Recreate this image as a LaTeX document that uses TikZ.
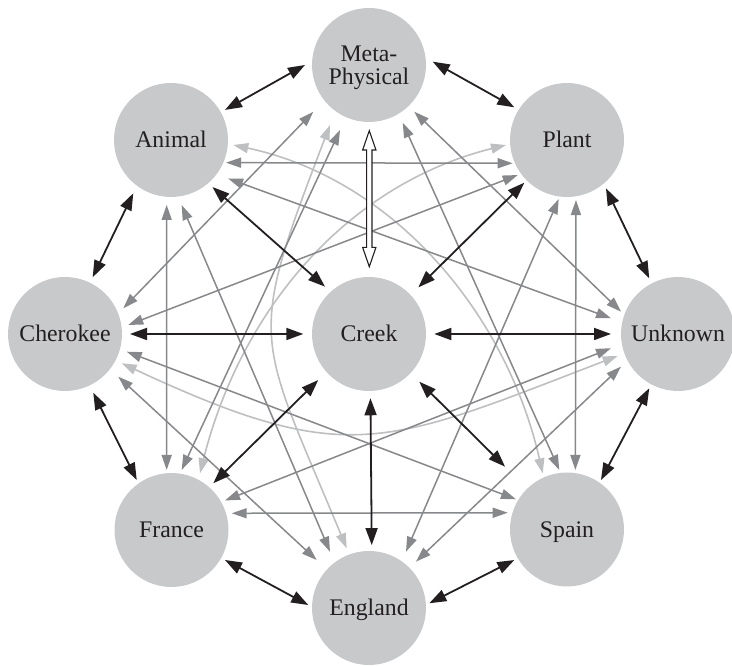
\documentclass[tikz,border=0pt]{standalone}
\usepackage{fontspec}
\setmainfont{Liberation Serif}
\usetikzlibrary{arrows.meta,calc}
\definecolor{nodefill}{RGB}{200,201,203}
\definecolor{txt}{RGB}{35,31,32}
\definecolor{blk}{RGB}{35,31,32}
\definecolor{gry}{RGB}{135,136,139}
\definecolor{lgry}{RGB}{190,191,193}
\tikzset{
  nd/.style={circle, fill=nodefill, minimum size=114pt, inner sep=0pt, text=txt,
    font=\fontsize{23.8}{23.3}\selectfont, text height=15.8pt, text depth=0pt},
  blkarrow/.style={draw=blk, line width=1.8pt, >={Triangle[length=17pt,width=12pt]}, <->},
  gryarrow/.style={draw=gry, line width=1.5pt, >={Triangle[length=15pt,width=10pt]}, <->},
  lgryarrow/.style={draw=lgry, line width=1.6pt, >={Triangle[length=15pt,width=10pt]}, <->},
}
\begin{document}
\begin{tikzpicture}[x=1pt,y=1pt]
\useasboundingbox (0,0) rectangle (732,666);
% nodes
\node[nd, align=center, text height=40pt, text depth=0pt] (meta) at (369,601) {Meta-\\Physical};
\node[nd] (animal) at (171,526) {Animal};
\node[nd] (plant) at (567,526) {Plant};
\node[nd] (cherokee) at (65,332) {Cherokee};
\node[nd] (creek) at (369,332) {Creek};
\node[nd] (unknown) at (678,332) {Unknown};
\node[nd] (france) at (171.5,136) {France};
\node[nd] (spain) at (567,136.5) {Spain};
\node[nd] (england) at (369,58) {England};

% light gray arcs (opposite pairs)
\draw[lgryarrow] ([shift={(237:71.6pt)}]meta.center) .. controls +(249:235pt) and +(112.6:235pt) .. ([shift={(110.5:63.7pt)}]england.center);
\draw[lgryarrow] ([shift={(-4.6:62.5pt)}]animal.center) .. controls +(-12:164pt) and +(102.8:164pt) .. ([shift={(113.4:61.2pt)}]spain.center);
\draw[lgryarrow] ([shift={(184.7:61.2pt)}]plant.center) .. controls +(194:166pt) and +(76:166pt) .. ([shift={(63.3:63.5pt)}]france.center);
\draw[lgryarrow] ([shift={(-27.3:63.8pt)}]cherokee.center) .. controls +(-25:250pt) and +(201:250pt) .. ([shift={(200:64.2pt)}]unknown.center);

% medium gray lines
\draw[gryarrow] ([shift={(-22.4:59.5pt)}]animal.center) -- ([shift={(203.2:59.1pt)}]plant.center);
\draw[gryarrow] ([shift={(266.2:65.1pt)}]animal.center) -- ([shift={(94.6:60.2pt)}]france.center);
\draw[gryarrow] ([shift={(-80.7:65.9pt)}]animal.center) -- ([shift={(124.7:68.5pt)}]england.center);
\draw[gryarrow] ([shift={(-34:68.8pt)}]animal.center) -- ([shift={(166.8:68.8pt)}]unknown.center);
\draw[gryarrow] ([shift={(220:72.7pt)}]meta.center) -- ([shift={(23.8:63.7pt)}]cherokee.center);
\draw[gryarrow] ([shift={(246:71.2pt)}]meta.center) -- ([shift={(80.4:60.9pt)}]france.center);
\draw[gryarrow] ([shift={(-59.7:66.8pt)}]meta.center) -- ([shift={(97.4:60pt)}]spain.center);
\draw[gryarrow] ([shift={(-45.9:65pt)}]meta.center) -- ([shift={(158.6:61.2pt)}]unknown.center);
\draw[gryarrow] ([shift={(215.4:60.5pt)}]plant.center) -- ([shift={(8.1:63.9pt)}]cherokee.center);
\draw[gryarrow] ([shift={(262:59.6pt)}]plant.center) -- ([shift={(56.7:67.4pt)}]england.center);
\draw[gryarrow] ([shift={(-81.5:60.7pt)}]plant.center) -- ([shift={(82:60.1pt)}]spain.center);
\draw[gryarrow] ([shift={(-16:64.2pt)}]cherokee.center) -- ([shift={(149.4:59.3pt)}]spain.center);
\draw[gryarrow] ([shift={(-38.7:68.3pt)}]cherokee.center) -- ([shift={(137.5:71pt)}]england.center);
\draw[gryarrow] ([shift={(192:68.5pt)}]unknown.center) -- ([shift={(28.9:61.1pt)}]france.center);
\draw[gryarrow] ([shift={(209.8:65.7pt)}]unknown.center) -- ([shift={(44.6:66pt)}]england.center);
\draw[gryarrow] ([shift={(15.5:62.5pt)}]france.center) -- ([shift={(164.2:61.6pt)}]spain.center);

% black lines: outer ring
\draw[blkarrow] ([shift={(180:64pt)}]meta.center) -- ([shift={(29.1:61.8pt)}]animal.center);
\draw[blkarrow] ([shift={(3:63.8pt)}]meta.center) -- ([shift={(148.2:62pt)}]plant.center);
\draw[blkarrow] ([shift={(234.7:65.3pt)}]animal.center) -- ([shift={(64:63.1pt)}]cherokee.center);
\draw[blkarrow] ([shift={(-51.1:62.1pt)}]plant.center) -- ([shift={(117.3:62.7pt)}]unknown.center);
\draw[blkarrow] ([shift={(-64.3:65.2pt)}]cherokee.center) -- ([shift={(124.8:60.9pt)}]france.center);
\draw[blkarrow] ([shift={(242.1:61.4pt)}]unknown.center) -- ([shift={(55.5:60pt)}]spain.center);
\draw[blkarrow] ([shift={(-29.3:61.3pt)}]france.center) -- ([shift={(177.2:60.8pt)}]england.center);
\draw[blkarrow] ([shift={(210.1:60.9pt)}]spain.center) -- ([shift={(4.5:60.5pt)}]england.center);
% black lines: Creek spokes
\draw[blkarrow] ([shift={(0:65pt)}]cherokee.center) -- ([shift={(180:65.7pt)}]creek.center);
\draw[blkarrow] ([shift={(0:65.3pt)}]creek.center) -- ([shift={(180:67pt)}]unknown.center);
\draw[blkarrow] ([shift={(-48.6:62.7pt)}]animal.center) -- ([shift={(132.9:64.6pt)}]creek.center);
\draw[blkarrow] ([shift={(225:60.4pt)}]plant.center) -- ([shift={(43.4:67.9pt)}]creek.center);
\draw[blkarrow] ([shift={(48.2:62.7pt)}]france.center) -- ([shift={(222.2:68.5pt)}]creek.center);
\draw[blkarrow] ([shift={(-43.5:69.3pt)}]creek.center) -- ([shift={(134.6:88.2pt)}]spain.center);
\draw[blkarrow] ([shift={(-88.7:64.3pt)}]creek.center) -- ([shift={(87.5:63pt)}]england.center);

% white double arrow Meta-Physical <-> Creek
\coordinate (wt) at ([shift={(0.3,-65.7)}]meta.center);
\coordinate (wb) at ([shift={(0.3,67.3)}]creek.center);
\draw[blk, fill=white, line width=1.1pt, line join=miter]
  (wt) -- ++(6.65,-19.3) -- ++(-4,0) -- ($(wb)+(2.65,19.3)$) -- ++(4,0) -- (wb)
  -- ++(-6.65,19.3) -- ++(4,0) -- ($(wt)+(-2.65,-19.3)$) -- ++(-4,0) -- cycle;
\end{tikzpicture}
\end{document}
